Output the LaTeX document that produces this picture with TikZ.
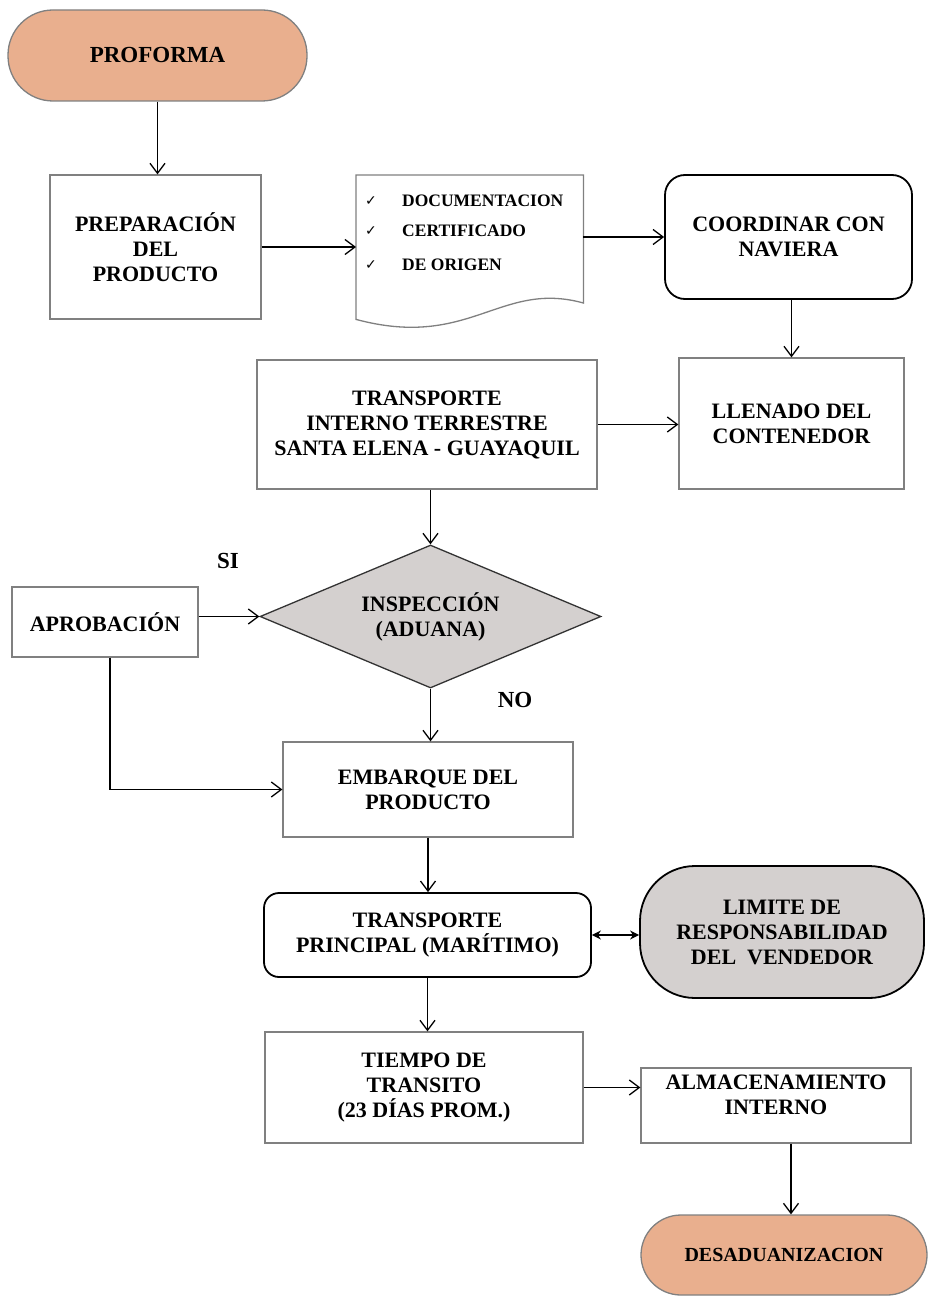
\documentclass[tikz,border=0pt]{standalone}
\usepackage{fontspec}
\setmainfont{Liberation Serif}
\newfontfamily\symfont{DejaVu Sans}
\usetikzlibrary{arrows.meta,shapes.geometric,calc}
\definecolor{salmon}{HTML}{E9AF8E}
\definecolor{grayfill}{HTML}{D4D0CF}
\definecolor{boxline}{HTML}{808080}
\tikzset{
  base/.style={font=\bfseries\fontsize{22}{25}\selectfont, align=center, inner sep=0pt},
  plainbox/.style={base, draw=boxline, line width=1.3pt, rectangle},
  roundbox/.style={base, draw=black, line width=1.8pt, rectangle, rounded corners=#1},
  terminal/.style={base, draw=boxline, fill=salmon, line width=1.3pt, rectangle, rounded corners=#1},
  decision/.style={base, draw=black!80, fill=grayfill, line width=1.3pt, diamond, shape aspect=2.38},
  doctext/.style={font=\bfseries\fontsize{17.5}{20}\selectfont, inner sep=0pt, anchor=west},
  checkmk/.style={font=\symfont\fontsize{14}{16}\selectfont, inner sep=0pt},
  lbl/.style={font=\bfseries\fontsize{23}{26}\selectfont, inner sep=0pt},
  arr/.style={line width=1.3pt, -{Straight Barb[length=10pt,width=15pt,line width=1.3pt]}},
  dblarr/.style={line width=1.3pt, {Stealth[length=9pt,width=9pt]}-{Stealth[length=9pt,width=9pt]}},
}
\begin{document}
\begin{tikzpicture}[x=1pt,y=-1pt]
\useasboundingbox[fill=white] (0,0) rectangle (928,1300);

% nodes
\node[terminal=45pt, minimum width=299pt, minimum height=91pt, font=\bfseries\fontsize{23}{25}\selectfont] (pro) at (157.5,55.5) {PROFORMA};
\node[plainbox, minimum width=211pt, minimum height=144pt] (prep) at (155.5,247) {PREPARACIÓN\\DEL\\PRODUCTO};

% document shape
\node[inner sep=0pt, minimum width=227pt, minimum height=128pt, anchor=north west] (doc) at (356,175) {};
\draw[draw=boxline, line width=1.3pt] (doc.south west) -- (doc.north west) -- (doc.north east) -- ($(doc.north east)+(0,128)$)
   .. controls (500,280) and (470,350) .. ($(doc.south west)+(0,16)$) -- cycle;
\node[checkmk] (c1) at (371,201) {✓};
\node[checkmk] (c2) at (371,231) {✓};
\node[checkmk] (c3) at (371,265) {✓};
\node[doctext] (t1) at (402,201) {DOCUMENTACION};
\node[doctext] (t2) at (402,231) {CERTIFICADO};
\node[doctext] (t3) at (402,265) {DE ORIGEN};

\node[roundbox=20pt, minimum width=247pt, minimum height=124pt] (coord) at (788.5,237) {COORDINAR CON\\NAVIERA};
\node[plainbox, minimum width=225pt, minimum height=131pt] (llen) at (791.5,423.5) {LLENADO DEL\\CONTENEDOR};
\node[plainbox, minimum width=340pt, minimum height=129pt] (ti) at (427,424.5) {TRANSPORTE\\INTERNO TERRESTRE\\SANTA ELENA - GUAYAQUIL};
\node[decision, minimum width=341pt, minimum height=143pt] (insp) at (430.5,616.5) {INSPECCIÓN\\(ADUANA)};
\node[plainbox, minimum width=186pt, minimum height=70pt] (aprob) at (105,622) {APROBACIÓN};
\node[lbl] (si) at (228,561) {SI};
\node[lbl] (no) at (515,700) {NO};
\node[plainbox, minimum width=290pt, minimum height=95pt] (emb) at (428,789.5) {EMBARQUE DEL\\PRODUCTO};
\node[roundbox=15pt, minimum width=327pt, minimum height=84pt] (tp) at (427.5,935) {TRANSPORTE\\PRINCIPAL (MARÍTIMO)};
\node[roundbox=55pt, fill=grayfill, minimum width=284pt, minimum height=132pt] (lim) at (782,932) {LIMITE DE\\RESPONSABILIDAD\\DEL\ \ VENDEDOR};
\node[plainbox, minimum width=318pt, minimum height=111pt] (tiempo) at (424,1087.5) {TIEMPO DE\\TRANSITO\\(23 DÍAS PROM.)};
\node[plainbox, minimum width=270pt, minimum height=75pt] (alm) at (776,1105.5) {};
\node[base] (almtext) at (776,1095) {ALMACENAMIENTO\\INTERNO};
\node[terminal=40pt, minimum width=286pt, minimum height=80pt, font=\bfseries\fontsize{20}{22}\selectfont] (des) at (784,1255) {DESADUANIZACION};

% connectors
\draw[arr] (pro.south) -- (pro.south |- prep.north);
\draw[arr] (prep.east) -- (prep.east -| doc.west);
\draw[arr] (doc.east |- coord.west) -- (coord.west);
\draw[arr] (llen.north |- coord.south) -- (llen.north);
\draw[arr] (ti.east) -- (ti.east -| llen.west);
\draw[arr] (insp.north |- ti.south) -- (insp.north);
\draw[arr] (aprob.east |- insp.west) -- (insp.west);
\draw[arr] (insp.south) -- (insp.south |- emb.north);
\draw[arr] ([xshift=5pt]aprob.south) -- ([xshift=5pt]aprob.south |- emb.west) -- (emb.west);
\draw[arr] (emb.south) -- (emb.south |- tp.north);
\draw[dblarr] (tp.east) -- (tp.east -| lim.west);
\draw[arr] (tp.south) -- (tp.south |- tiempo.north);
\draw[arr] (tiempo.east) -- (tiempo.east -| alm.west);
\draw[arr] ([xshift=15pt]alm.south) -- ([xshift=15pt]alm.south |- des.north);
\end{tikzpicture}
\end{document}
